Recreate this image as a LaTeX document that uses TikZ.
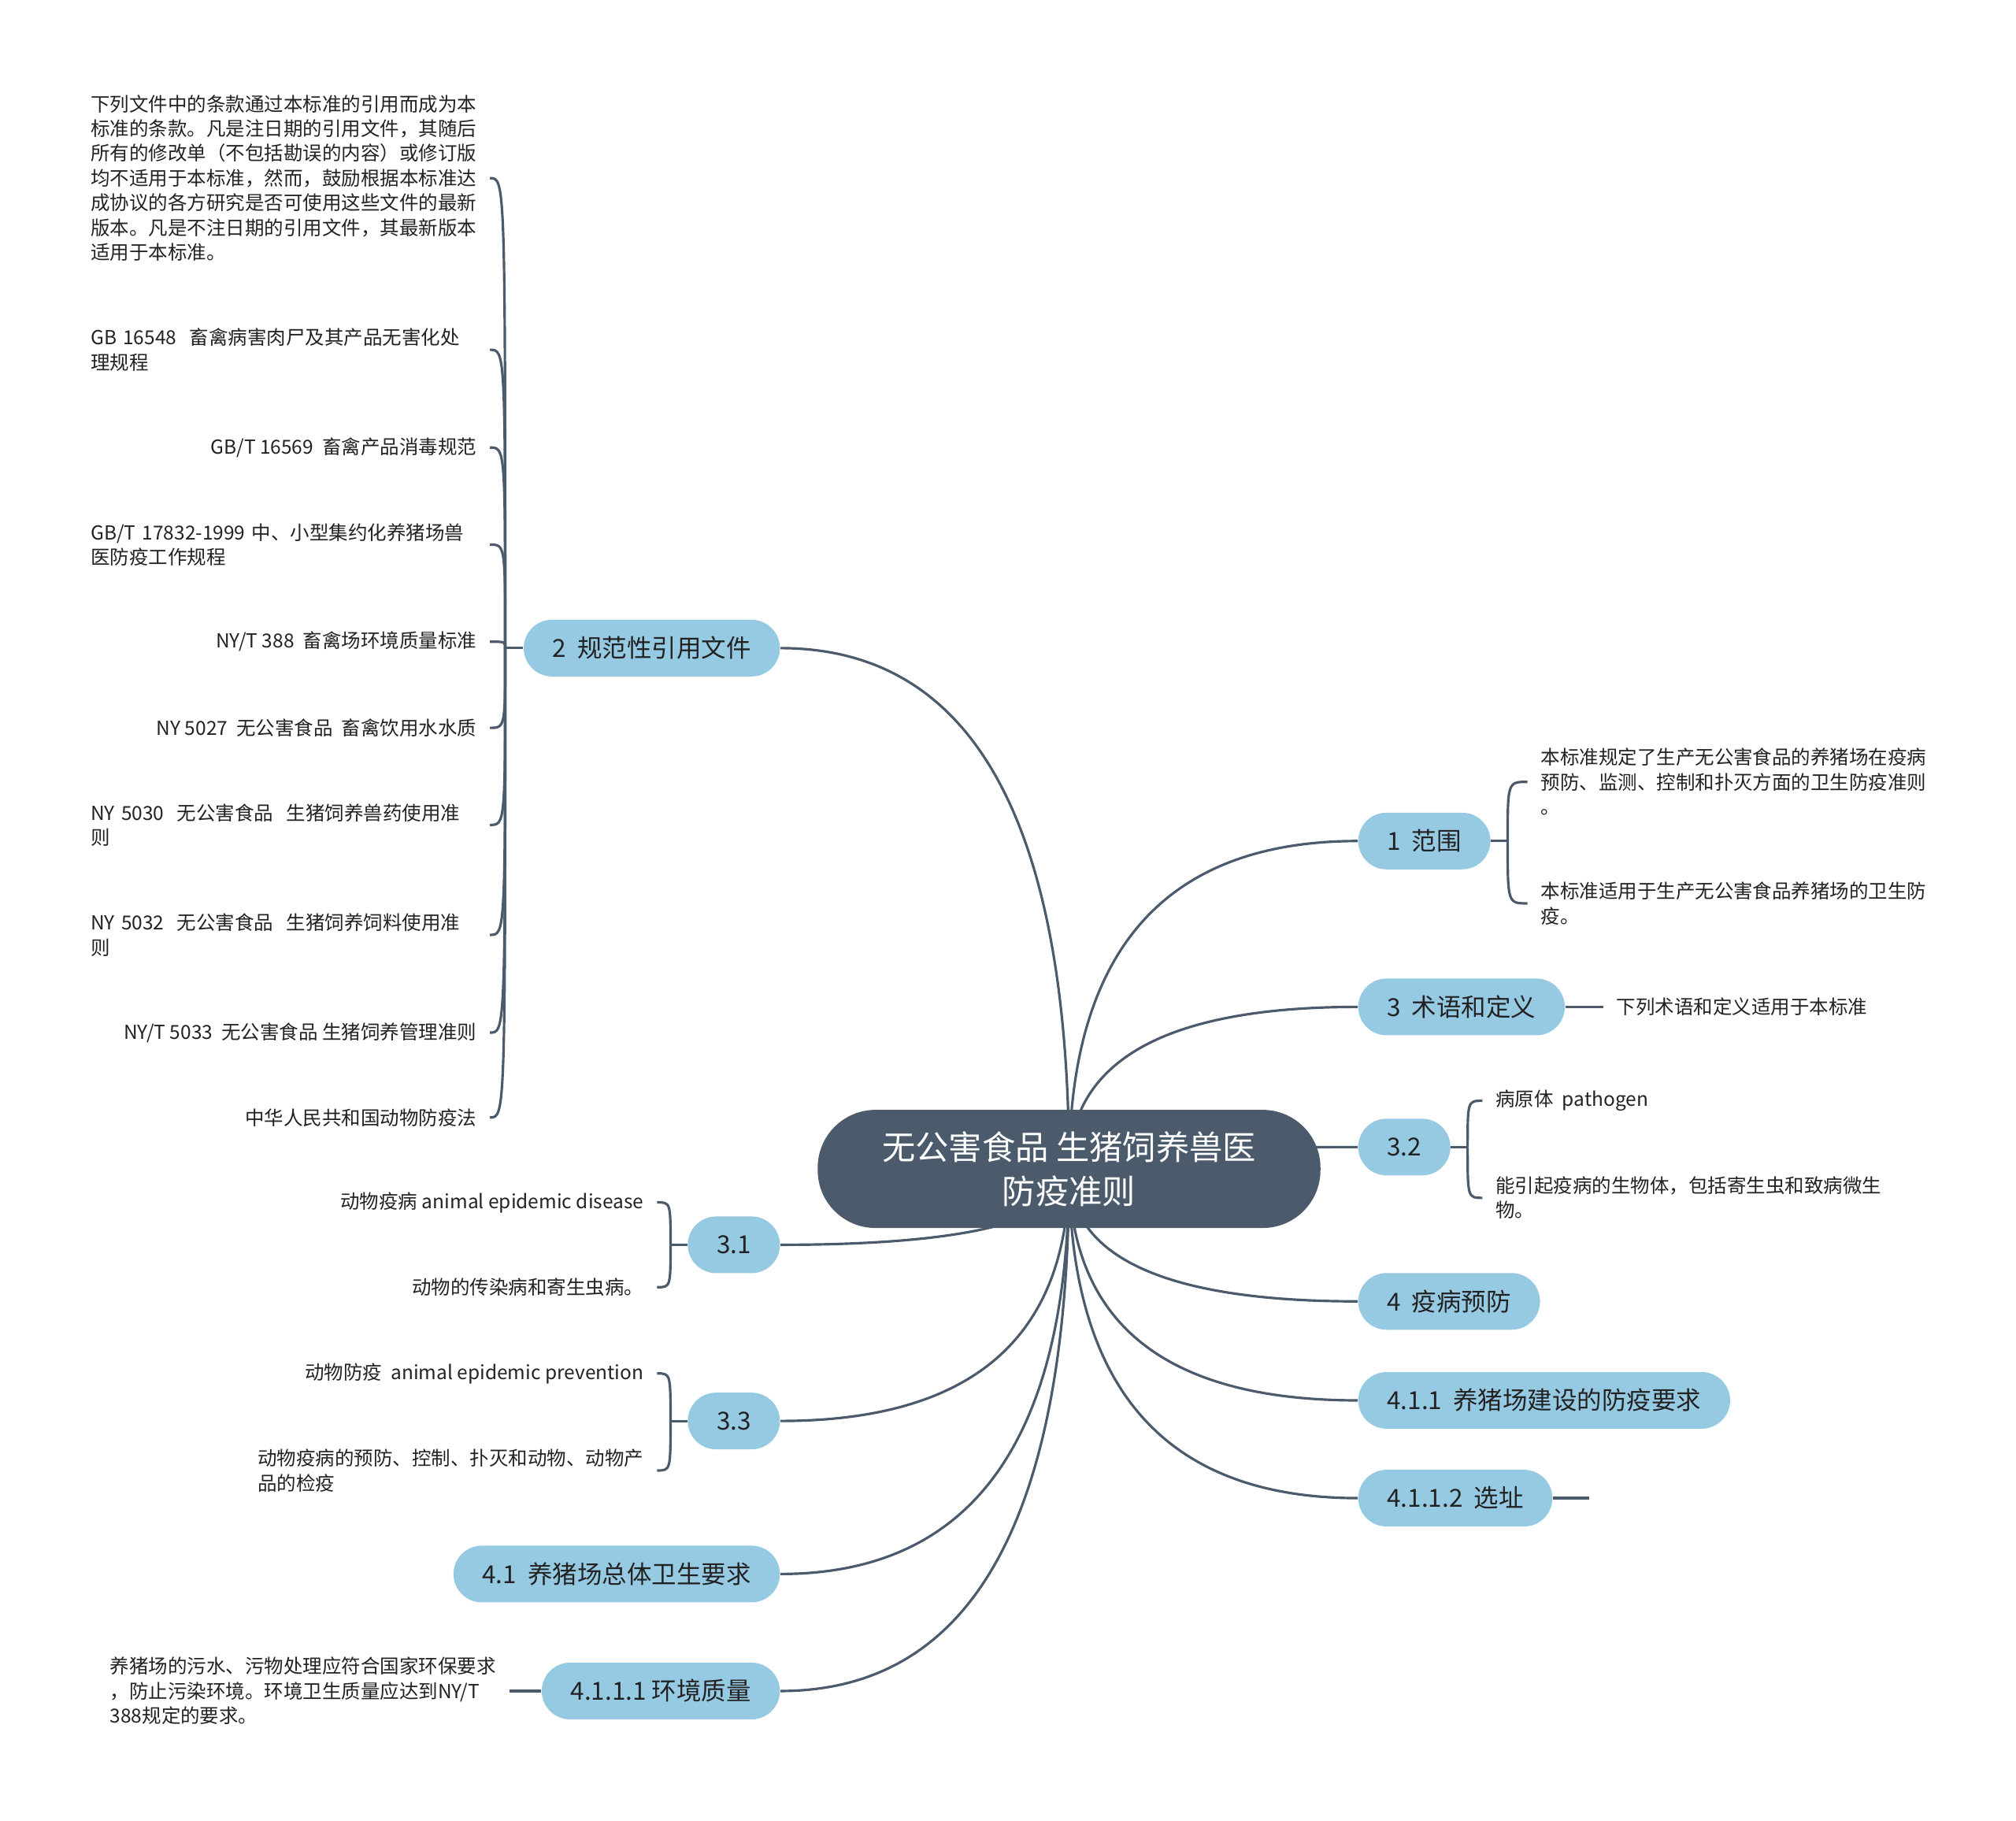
\documentclass[tikz,border=0pt]{standalone}
\usepackage{fontspec}
\setmainfont{Noto Sans CJK SC}
\usepackage{tikz}
\usetikzlibrary{calc,backgrounds}

\definecolor{rootfill}{HTML}{4B5B6B}
\definecolor{topicfill}{HTML}{96CAE3}
\definecolor{linkcol}{HTML}{4B5B6B}
\definecolor{inkcol}{HTML}{222222}

\begin{document}
\begin{tikzpicture}[
  x=0.49pt, y=-0.49pt,
  root/.style={rectangle, rounded corners=22pt, fill=rootfill, text=white,
               minimum width=191.6pt, minimum height=45pt, align=center,
               font=\fontsize{12.7}{16.7}\selectfont},
  topic/.style={rectangle, rounded corners=10.8pt, fill=topicfill, text=inkcol,
                minimum height=21.6pt, inner xsep=11pt, inner ysep=0pt,
                font=\fontsize{9.45}{11}\selectfont},
  leaf/.style={inner xsep=4.9pt, inner ysep=1pt, text=inkcol,
               font=\fontsize{7.35}{9.45}\selectfont},
  wide/.style={text width=147pt, align=left},
  link/.style={draw=linkcol, line width=0.95pt}
]
\useasboundingbox (0,0) rectangle (1568,1416);

% centre
\node[root] (root) at (831.5,909) {无公害食品 生猪饲养兽医\\防疫准则};

% main topics
\node[topic, anchor=east] (n2) at (607,504) {2\ \ 规范性引用文件};
\node[topic, anchor=west] (n1) at (1056,654) {1\ \ 范围};
\node[topic, anchor=west] (n3) at (1056,783) {3\ \ 术语和定义};
\node[topic, anchor=west] (n32) at (1056,892) {3.2};
\node[topic, anchor=east] (n31) at (607,968) {3.1};
\node[topic, anchor=west] (n4) at (1056,1012) {4\ \ 疫病预防};
\node[topic, anchor=west] (n411) at (1056,1089) {4.1.1\ \ 养猪场建设的防疫要求};
\node[topic, anchor=east] (n33) at (607,1105) {3.3};
\node[topic, anchor=west] (n4112) at (1056,1165) {4.1.1.2\ \ 选址};
\node[topic, anchor=east] (n41) at (607,1224) {4.1\ \ 养猪场总体卫生要求};
\node[topic, anchor=east] (n4111) at (607,1315) {4.1.1.1 环境质量};

% leaves of 2
\node[leaf, wide, anchor=east] (l2a) at (381,138.5)
  {下列文件中的条款通过本标准的引用而成为本\\标准的条款。凡是注日期的引用文件，其随后\\所有的修改单（不包括勘误的内容）或修订版\\均不适用于本标准，然而，鼓励根据本标准达\\成协议的各方研究是否可使用这些文件的最新\\版本。凡是不注日期的引用文件，其最新版本\\适用于本标准。};
\node[leaf, wide, anchor=east] (l2b) at (381,272) {GB 16548\ \ 畜禽病害肉尸及其产品无害化处\\理规程};
\node[leaf, anchor=east] (l2c) at (381,348) {GB/T 16569\ \ 畜禽产品消毒规范};
\node[leaf, wide, anchor=east] (l2d) at (381,423.5) {GB/T 17832-1999 中、小型集约化养猪场兽\\医防疫工作规程};
\node[leaf, anchor=east] (l2e) at (381,499) {NY/T 388\ \ 畜禽场环境质量标准};
\node[leaf, anchor=east] (l2f) at (381,566) {NY 5027\ \ 无公害食品\ \ 畜禽饮用水水质};
\node[leaf, wide, anchor=east] (l2g) at (381,641.5) {NY 5030\ \ 无公害食品\ \ 生猪饲养兽药使用准\\则};
\node[leaf, wide, anchor=east] (l2h) at (381,727) {NY 5032\ \ 无公害食品\ \ 生猪饲养饲料使用准\\则};
\node[leaf, anchor=east] (l2i) at (381,803) {NY/T 5033\ \ 无公害食品 生猪饲养管理准则};
\node[leaf, anchor=east] (l2j) at (381,869) {中华人民共和国动物防疫法};

% leaves on the right
\node[leaf, wide, anchor=west] (l1a) at (1188,608)
  {本标准规定了生产无公害食品的养猪场在疫病\\预防、监测、控制和扑灭方面的卫生防疫准则\\。};
\node[leaf, wide, anchor=west] (l1b) at (1188,702.5) {本标准适用于生产无公害食品养猪场的卫生防\\疫。};
\node[leaf, anchor=west] (l3a) at (1247,783) {下列术语和定义适用于本标准};
\node[leaf, anchor=west] (l32a) at (1153,856) {病原体\ \ pathogen};
\node[leaf, wide, anchor=west] (l32b) at (1153,931.5) {能引起疫病的生物体，包括寄生虫和致病微生\\物。};

% leaves on the lower left
\node[leaf, anchor=east] (l31a) at (511,935) {动物疫病 animal epidemic disease};
\node[leaf, anchor=east] (l31b) at (511,1001) {动物的传染病和寄生虫病。};
\node[leaf, anchor=east] (l33a) at (511,1068) {动物防疫\ \ animal epidemic prevention};
\node[leaf, wide, anchor=east] (l33b) at (511,1143.5) {动物疫病的预防、控制、扑灭和动物、动物产\\品的检疫};
\node[leaf, wide, anchor=east] (l4111a) at (396,1315)
  {养猪场的污水、污物处理应符合国家环保要求\\，防止污染环境。环境卫生质量应达到NY/T\\388规定的要求。};

% junctions
\coordinate (n2j) at ($(n2.west)+(-14,0)$);
\coordinate (n1j) at ($(n1.east)+(13,0)$);
\coordinate (n32j) at ($(n32.east)+(13,0)$);
\coordinate (n31j) at ($(n31.west)+(-13,0)$);
\coordinate (n33j) at ($(n33.west)+(-13,0)$);
\coordinate (n4112j) at ($(n4112.east)+(28,0)$);

\begin{scope}[on background layer]
\fill[white] (0,0) rectangle (1568,1416);
% branches from the centre
\foreach \t/\a in {n2/east, n1/west, n3/west, n32/west, n31/east, n4/west,
                   n411/west, n33/east, n4112/west, n41/east, n4111/east}
  \draw[link] (root.center)
    .. controls ($(root.center)!.667!(root.center |- \t.\a)$)
    and ($(\t.\a)!.667!(root.center |- \t.\a)$) .. (\t.\a);
% brackets
\draw[link] (n2.west) -- (n2j);
\foreach \l in {l2a,l2b,l2c,l2d,l2e,l2f,l2g,l2h,l2i,l2j}
  \draw[link] (n2j) .. controls (n2j |- \l.east) .. (\l.east);
\draw[link] (n1.east) -- (n1j);
\foreach \l in {l1a,l1b}
  \draw[link] (n1j) .. controls (n1j |- \l.west) .. (\l.west);
\draw[link] (n32.east) -- (n32j);
\foreach \l in {l32a,l32b}
  \draw[link] (n32j) .. controls (n32j |- \l.west) .. (\l.west);
\draw[link] (n31.west) -- (n31j);
\foreach \l in {l31a,l31b}
  \draw[link] (n31j) .. controls (n31j |- \l.east) .. (\l.east);
\draw[link] (n33.west) -- (n33j);
\foreach \l in {l33a,l33b}
  \draw[link] (n33j) .. controls (n33j |- \l.east) .. (\l.east);
% single leaves
\draw[link] (n3.east) -- (l3a.west);
\draw[link] (n4111.west) -- (l4111a.east);
\draw[link] (n4112.east) -- (n4112j);
\end{scope}
\end{tikzpicture}
\end{document}
